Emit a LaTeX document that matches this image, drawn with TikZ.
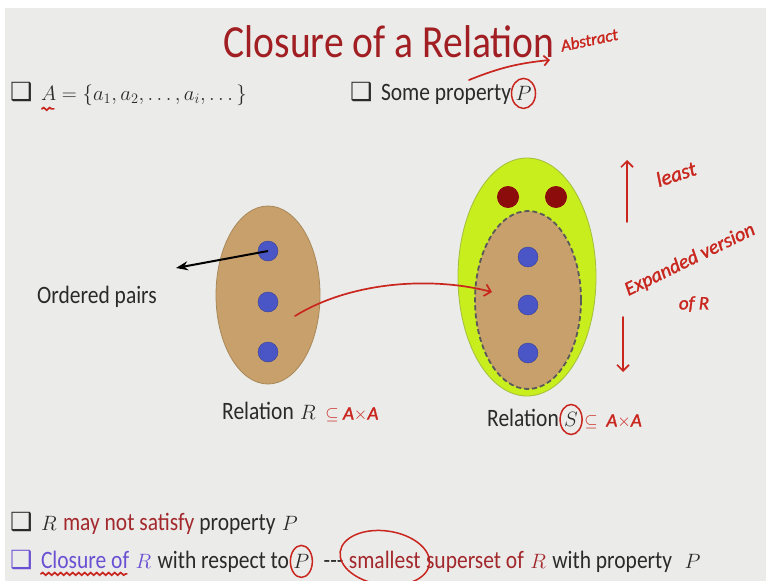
\documentclass[tikz,border=0pt]{standalone}
\usepackage{fontspec}
\setmainfont{Carlito}[FakeStretch=0.86]
\newfontfamily\symfont{DejaVu Sans}
\newfontfamily\handfont{Carlito}[FakeBold=1.5]
\usepackage{amsmath,amssymb}
\usetikzlibrary{positioning,arrows.meta,calc,shapes.geometric,decorations.pathmorphing}
\usepackage{xcolor}
\definecolor{slidebg}{HTML}{EBEBEA}
\definecolor{inkgrey}{HTML}{2A2A2A}
\definecolor{titlered}{HTML}{A11E22}
\definecolor{penred}{HTML}{C9261E}
\definecolor{textred}{HTML}{A3282C}
\definecolor{tanfill}{HTML}{C8A06C}
\definecolor{tanedge}{HTML}{A98858}
\definecolor{dotblue}{HTML}{4A55C6}
\definecolor{dotred}{HTML}{8C0B0B}
\definecolor{limefill}{HTML}{C8EE1E}
\definecolor{limeedge}{HTML}{A2BE3C}
\definecolor{closeblue}{HTML}{6A50D2}
\newcommand{\chkbox}{{\symfont\char"2751}}

\begin{document}
\begin{tikzpicture}[
  x=1pt, y=-1pt,
  >=Stealth,
  body/.style={inkgrey, font=\fontsize{25}{27}\selectfont, inner sep=0pt, anchor=west},
  mathtext/.style={inkgrey, font=\fontsize{21}{23}\selectfont, inner sep=0pt, anchor=base west},
  pen/.style={penred, inner sep=0pt, font=\fontsize{19}{21}\selectfont\handfont\itshape},
  penline/.style={penred, line width=1.7pt, line cap=round},
  squiggle/.style={penline, decorate, decoration={snake, amplitude=1.3pt, segment length=6pt}},
  ring/.style={ellipse, draw=penred, line width=1.5pt, inner sep=0pt},
  bdot/.style={circle, fill=dotblue, draw=dotblue!75!black, minimum size=20pt, inner sep=0pt},
  rdot/.style={circle, fill=dotred, minimum size=22pt, inner sep=0pt},
]
  % Slide background
  \useasboundingbox (0,0) rectangle (766,581);
  \fill[white] (0,0) rectangle (766,581);
  \fill[slidebg] (5,8) rectangle (766,581);

  % Title
  \node[font=\fontsize{46}{50}\selectfont, titlered] (title) at (389,42) {Closure of a Relation};

  % First line
  \node[body] (b1) at (10,92) {\chkbox};
  \node[mathtext] (setA) at ([xshift=8pt]b1.base east) {$A=\{a_1,a_2,\dots,a_i,\dots\}$};
  \draw[squiggle] ([xshift=1pt,yshift=-3pt]setA.south west) -- ++(12,0);

  \node[body] (b2) at (350,92) {\chkbox};
  \node[body, anchor=base west] (prop) at ([xshift=8pt]b2.base east) {Some property};
  \node[mathtext] (P1) at ([xshift=4pt]prop.base east) {$P$};
  \node[ring, minimum width=24pt, minimum height=30pt] (P1c) at (P1) {};
  \node[pen, rotate=12, anchor=south west, font=\fontsize{17}{19}\selectfont\handfont\itshape] (abs) at (562,52) {Abstract};
  \coordinate (pa) at (469,80);
  \draw[penline, -{Straight Barb[length=5pt]}] (pa) to[bend left=8] ([xshift=-12pt,yshift=-8pt]abs.south west);

  % Relation R
  \node[ellipse, fill=tanfill, draw=tanedge, line width=0.8pt, minimum width=104pt, minimum height=178pt] (R) at (268,295) {};
  \foreach \i/\yy in {1/251,2/302,3/352} {
    \node[bdot] (r\i) at (268,\yy) {};
  }
  \node[body, anchor=center] (op) at (97,297) {Ordered pairs};
  \coordinate (opend) at (176,268);
  \draw[->, line width=2pt] (r1.center) -- (opend);

  \node[body] (relR) at (222,411) {Relation};
  \node[mathtext] (rR) at ([xshift=6pt]relR.base east) {$R$};
  \node[pen, anchor=base west] (subR) at ([xshift=9pt]rR.base east) {$\subseteq$\ A$\times$A};

  % Relation S
  \node[ellipse, fill=limefill, draw=limeedge, line width=0.8pt, minimum width=138pt, minimum height=238pt] (S) at (527,277) {};
  \node[ellipse, fill=tanfill, draw=black!65, line width=1.8pt, dash pattern=on 5pt off 3pt, minimum width=106pt, minimum height=178pt] (Rin) at (528,300) {};
  \node[rdot] (s1) at (508,197) {};
  \node[rdot] (s2) at (556,197) {};
  \foreach \i/\yy in {1/257,2/305,3/353} {
    \node[bdot] (q\i) at (528,\yy) {};
  }

  \node[body] (relS) at (487,418) {Relation};
  \node[mathtext] (sS) at ([xshift=5pt]relS.base east) {$S$};
  \node[ring, minimum width=22pt, minimum height=30pt] (sSc) at (sS) {};
  \node[pen, anchor=base west] (subS) at ([xshift=6pt]sS.base east) {$\subseteq$\ \ A$\times$A};

  % Expansion arrow
  \coordinate (from) at (295,316);
  \coordinate (to) at (492,292);
  \draw[penline, -{Straight Barb[length=6pt]}] (from) .. controls (350,282) and (430,276) .. (to);

  % Notes at right
  \coordinate (up1) at (627,222);
  \coordinate (up2) at (627,160);
  \draw[penline, -{Straight Barb[length=6pt]}] (up1) -- (up2);
  \node[pen, rotate=18, font=\fontsize{21}{23}\selectfont\handfont\itshape] (least) at (676,174) {least};
  \node[pen, rotate=26, font=\fontsize{20}{22}\selectfont\handfont\itshape] (expd) at (690,260) {Expanded version};
  \node[pen, font=\fontsize{19}{21}\selectfont\handfont\itshape] (ofR) at (694,304) {of R};
  \coordinate (dn1) at (623,317);
  \coordinate (dn2) at (623,372);
  \draw[penline, -{Straight Barb[length=6pt]}] (dn1) -- (dn2);

  % Bottom lines
  \node[body] (b3) at (10,522) {\chkbox};
  \node[mathtext] (rB) at ([xshift=8pt]b3.base east) {$R$};
  \node[body, anchor=base west] (l1) at ([xshift=6pt]rB.base east) {\textcolor{textred}{may not satisfy} property};
  \node[mathtext] (pB) at ([xshift=6pt]l1.base east) {$P$};

  \node[body, closeblue] (b4) at (10,560) {\chkbox};
  \node[body, anchor=base west, closeblue] (l2a) at ([xshift=8pt]b4.base east) {Closure of};
  \draw[squiggle] ([yshift=-5pt]l2a.south west) -- ++(86,0);
  \node[mathtext, closeblue] (rC) at ([xshift=6pt]l2a.base east) {$R$};
  \node[body, anchor=base west] (l2w) at ([xshift=6pt]rC.base east) {with respect to};
  \node[mathtext] (P2) at ([xshift=4pt]l2w.base east) {$P$};
  \node[ring, minimum width=22pt, minimum height=32pt] (P2c) at (P2) {};
  \node[body, anchor=base west] (dsh) at ([xshift=14pt]P2.base east) {-{}-{}-};
  \node[body, anchor=base west, textred] (small) at ([xshift=5pt]dsh.base east) {smallest};
  \node[ring, rotate=-8, minimum width=90pt, minimum height=54pt] (smallc) at ([yshift=2pt]small.center) {};
  \node[body, anchor=base west, textred] (sup) at ([xshift=5pt]small.base east) {superset of};
  \node[mathtext, textred] (rD) at ([xshift=6pt]sup.base east) {$R$};
  \node[body, anchor=base west] (l2b) at ([xshift=6pt]rD.base east) {with property};
  \node[mathtext] (pD) at ([xshift=12pt]l2b.base east) {$P$};
\end{tikzpicture}
\end{document}
